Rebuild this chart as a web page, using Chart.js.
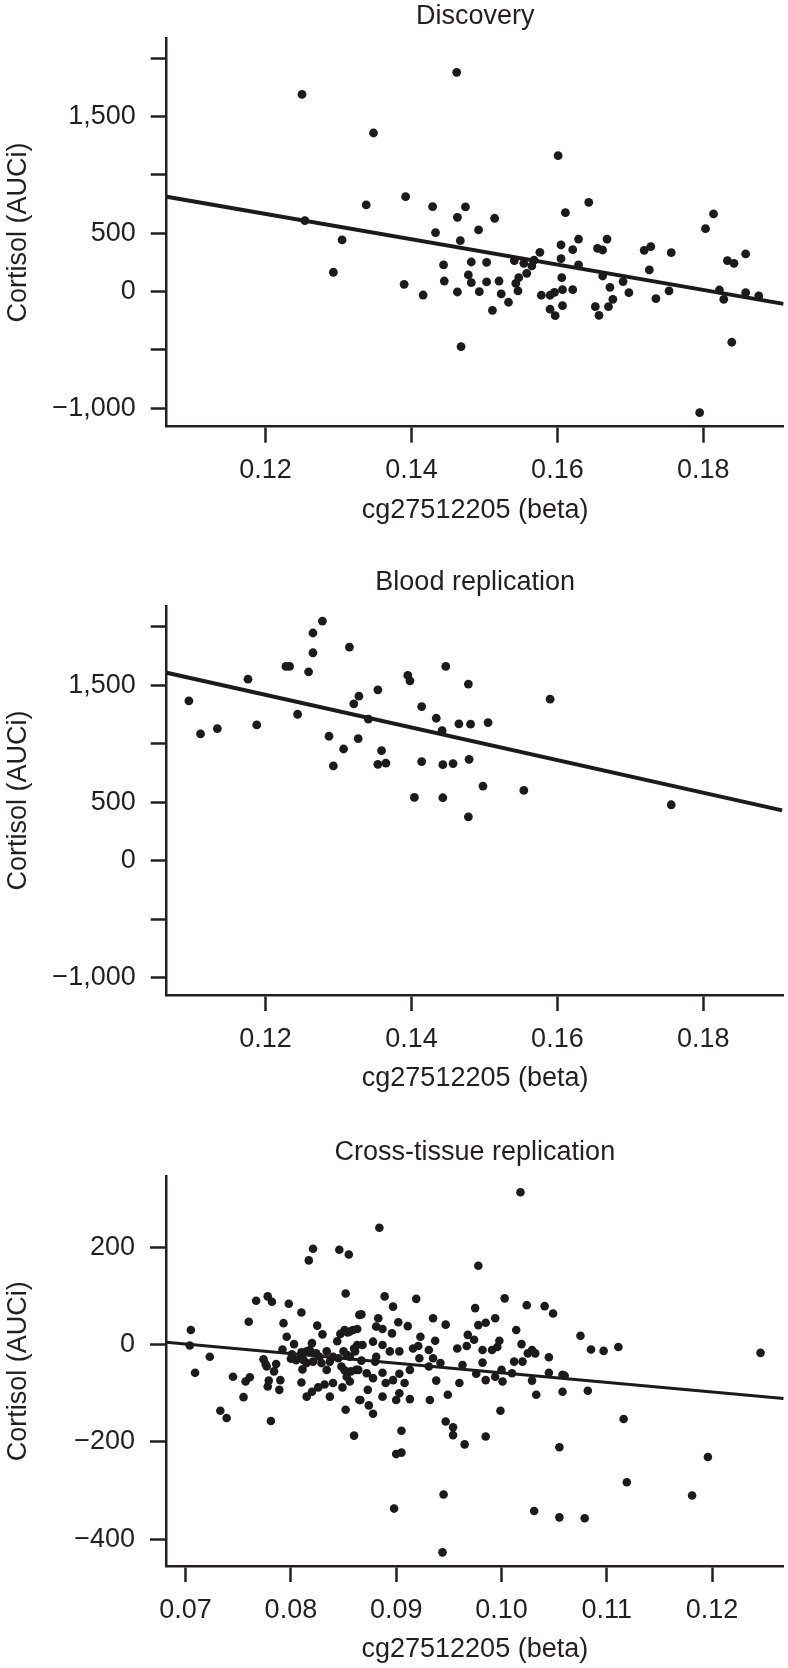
<!DOCTYPE html>
<html>
<head>
<meta charset="utf-8">
<title>Cortisol vs cg27512205</title>
<script src="https://cdn.jsdelivr.net/npm/chart.js@4.4.0/dist/chart.umd.min.js"></script>
<style>
    html, body { margin: 0; padding: 0; background: #fff; }
    #page { position: relative; width: 788px; height: 1668px; overflow: hidden; }
    #page canvas { position: absolute; left: 0; }
</style>
</head>
<body>
<div id="page">
    <canvas id="discovery" width="788" height="540" style="top:0px"></canvas>
    <canvas id="blood" width="788" height="540" style="top:560px"></canvas>
    <canvas id="cross" width="788" height="548" style="top:1120px"></canvas>
</div>
<script>
// 数据 - 从原图读取
const X_TITLE = 'cg27512205 (beta)';
const Y_TITLE = 'Cortisol (AUCi)';

// Discovery
const DISC_X = [
    0.1250, 0.1348, 0.1462, 0.1254, 0.1338, 0.1392, 0.1429, 0.1474, 0.1463, 0.1433,
    0.1467, 0.1305, 0.1293, 0.1444, 0.1445, 0.1390, 0.1416, 0.1463, 0.1468, 0.1601,
    0.1514, 0.1492, 0.1643, 0.1611, 0.1814, 0.1803, 0.1576, 0.1605, 0.1621, 0.1629,
    0.1605, 0.1629, 0.1655, 0.1662, 0.1668, 0.1719, 0.1728, 0.1756, 0.1726, 0.1482,
    0.1503, 0.1541, 0.1554, 0.1568, 0.1565, 0.1558, 0.1547, 0.1543, 0.1546, 0.1478,
    0.1482, 0.1503, 0.1520, 0.1493, 0.1523, 0.1533, 0.1511, 0.1578, 0.1590, 0.1596,
    0.1607, 0.1621, 0.1606, 0.1590, 0.1597, 0.1607, 0.1662, 0.1672, 0.1690, 0.1698,
    0.1676, 0.1652, 0.1670, 0.1657, 0.1735, 0.1753, 0.1822, 0.1828, 0.1833, 0.1842,
    0.1858, 0.1858, 0.1876, 0.1839, 0.1795
];
const DISC_Y = [
    1691, 1360, 1880, 609, 743, 814, 729, 726, 637, 506,
    437, 443, 166, 229, 91, 63, -29, -3, -471, 1166,
    629, 529, 766, 677, 666, 540, 337, 400, 360, 451,
    283, 229, 371, 357, 451, 354, 386, 334, 186, 254,
    251, 266, 243, 271, 220, 157, 120, 71, 6, 143,
    77, 83, 91, 0, -20, -91, -160, -31, -31, -6,
    17, 17, 120, -151, -206, -120, 134, 37, 86, -9,
    -66, -129, -129, -203, -60, 6, 14, -66, 266, 243,
    323, -9, -37, -434, -1037
];
const DISC_FIT_X = [0.10646, 0.1910];
const DISC_FIT_Y = [814, -105];

// Blood replication
const BLOOD_X = [
    0.1095, 0.1111, 0.1134, 0.1176, 0.1188, 0.1228, 0.1233, 0.1244, 0.1259, 0.1265,
    0.1265, 0.1278, 0.1315, 0.1287, 0.1293, 0.1307, 0.1321, 0.1328, 0.1327, 0.1341,
    0.1354, 0.1359, 0.1354, 0.1365, 0.1395, 0.1398, 0.1414, 0.1414, 0.1404, 0.1434,
    0.1442, 0.1447, 0.1443, 0.1457, 0.1443, 0.1465, 0.1478, 0.1481, 0.1505, 0.1479,
    0.1498, 0.1478, 0.1554, 0.1590, 0.1756
];
const BLOOD_Y = [
    1366, 1083, 1129, 1551, 1160, 1660, 1660, 1251, 1614, 1777,
    1946, 2048, 1826, 1063, 809, 954, 1340, 1406, 1043, 1209,
    1460, 940, 823, 834, 1583, 1537, 1317, 846, 540, 1217,
    1111, 1660, 820, 829, 537, 1169, 1509, 1166, 1180, 866,
    637, 374, 600, 1380, 477
];
const BLOOD_FIT_X = [0.10646, 0.1908];
const BLOOD_FIT_Y = [1606, 429];

// Cross-tissue replication
const CROSS_X = [
    0.0705, 0.0704, 0.0723, 0.0709, 0.0745, 0.0755, 0.0733, 0.0739, 0.0757, 0.0761,
    0.0760, 0.0767, 0.0778, 0.0782, 0.0798, 0.0810, 0.0793, 0.0796, 0.0803, 0.0792,
    0.0774, 0.0776, 0.0777, 0.0786, 0.0784, 0.0779, 0.0778, 0.0790, 0.0789, 0.0781,
    0.0817, 0.0821, 0.0846, 0.0855, 0.0852, 0.0825, 0.0830, 0.0844, 0.0810, 0.0805,
    0.0811, 0.0815, 0.0815, 0.0818, 0.0820, 0.0824, 0.0827, 0.0834, 0.0837, 0.0840,
    0.0845, 0.0848, 0.0851, 0.0853, 0.0857, 0.0810, 0.0815, 0.0820, 0.0826, 0.0832,
    0.0840, 0.0837, 0.0849, 0.0852, 0.0860, 0.0800, 0.0801, 0.0810, 0.0834, 0.0847,
    0.0851, 0.0854, 0.0859, 0.0850, 0.0853, 0.0861, 0.0863, 0.0864, 0.0865, 0.0865,
    0.0856, 0.0812, 0.0821, 0.0829,
    0.1018, 0.0884, 0.0978, 0.0889, 0.0919, 0.0897, 0.1003, 0.0975, 0.1024, 0.1041,
    0.1049, 0.0867, 0.0883, 0.0902, 0.0911, 0.0935, 0.0947, 0.0978, 0.0985, 0.0994,
    0.1014, 0.0856, 0.0863, 0.0881, 0.0887, 0.0896, 0.0968, 0.0974, 0.0998, 0.1019,
    0.1029, 0.1045, 0.0923, 0.0937, 0.0878, 0.0887, 0.0903, 0.0894, 0.0916, 0.0921,
    0.0931, 0.0935, 0.0958, 0.0967, 0.0982, 0.0991, 0.0996, 0.1025, 0.1032, 0.0868,
    0.0860, 0.0856, 0.0867, 0.0880, 0.0881, 0.0913, 0.0922, 0.0931, 0.0942, 0.0963,
    0.0982, 0.1000, 0.1012, 0.1020, 0.1045, 0.1058, 0.0862, 0.0872, 0.0878, 0.0887,
    0.0890, 0.0897, 0.0903, 0.0908, 0.0938, 0.0960, 0.0976, 0.0985, 0.0994, 0.1001,
    0.1010, 0.1029, 0.0873, 0.0887, 0.0866, 0.0874, 0.0878, 0.0900, 0.0903, 0.0913,
    0.0932, 0.0949, 0.1033, 0.1058, 0.0999, 0.0947, 0.0954, 0.0954, 0.0965, 0.0905,
    0.0985, 0.0900, 0.0905, 0.1055, 0.0945, 0.0898, 0.1031, 0.1055, 0.0944,
    0.1075, 0.1085, 0.1097, 0.1111, 0.1246, 0.1060, 0.1082, 0.1116, 0.1196, 0.1119,
    0.1181, 0.1079
];
const CROSS_Y = [
    30, -2, -25, -58, -66, -108, -136, -151, -76, -67,
    47, 90, 99, 88, 84, 66, 44, 16, 1, -10,
    -30, -40, -45, -40, -55, -74, -86, -73, -93, -157,
    173, 197, 195, 185, 105, 39, 21, 7, -23, -32,
    -51, -38, -14, -11, 3, -18, -25, -14, -35, -25,
    -28, -45, -53, -66, -55, -78, -107, -97, -88, -82,
    -79, -107, -88, -134, -187, -29, -20, -16, -52, 22,
    30, 25, 30, -14, -21, -14, -1, -52, 61, -114,
    -76, -32, -35, -38,
    313, 240, 162, 99, 94, 78, 95, 75, 81, 79,
    64, 62, 54, 46, 38, 54, 41, 40, 45, 54,
    30, 27, 32, 37, 32, 23, 20, 10, 8, 1,
    -11, -26, 16, 8, 6, -1, -14, -14, -8, -3,
    -11, -28, -8, -3, -11, -11, -5, -18, -18, -1,
    -8, -25, -33, -35, -25, -52, -28, -45, -38, -42,
    -37, -52, -35, -35, -58, -62, -52, -59, -69, -58,
    -79, -73, -60, -79, -74, -79, -60, -73, -66, -76,
    -59, -74, -93, -107, -114, -125, -142, -114, -100, -112,
    -114, -103, -103, -97, -136, -158, -170, -186, -205, -177,
    -189, -225, -222, -211, -308, -337, -342, -355, -427,
    18, -10, -13, -5, -17, -64, -95, -153, -231, -283,
    -310, -357
];
const CROSS_FIT_X = [0.06814, 0.1268];
const CROSS_FIT_Y = [5, -111];

// 刻度
const BETA_TICKS_WIDE = [0.12, 0.14, 0.16, 0.18];
const BETA_TICKS_CROSS = [0.07, 0.08, 0.09, 0.10, 0.11, 0.12];
const AUC_TICKS_WIDE = [-1000, -500, 0, 500, 1000, 1500, 2000];
const AUC_LABELS_WIDE = [-1000, 0, 500, 1500];
const AUC_TICKS_CROSS = [-400, -200, 0, 200];

const FONT_FAMILY = '"Liberation Sans", Arial, Helvetica, sans-serif';
const INK = '#231f20';
const DOT = '#1c1a1b';

// 合并x/y数组为点
function toPoints(xs, ys) {
    return xs.map((x, i) => ({ x: x, y: ys[i] }));
}

// 数值格式: 千分位 + 真正的减号
function formatAuc(v) {
    const s = Math.abs(v).toLocaleString('en-US');
    return v < 0 ? '\u2212' + s : s;
}

// 创建一个面板
function createPanel(canvasId, cfg) {
    const el = document.getElementById(canvasId);
    const font = { family: FONT_FAMILY, size: 27 };

    return new Chart(el, {
        type: 'scatter',
        data: {
            datasets: [
                {
                    type: 'scatter',
                    data: toPoints(cfg.xs, cfg.ys),
                    pointRadius: cfg.dotRadius,
                    pointHoverRadius: cfg.dotRadius,
                    pointBackgroundColor: DOT,
                    pointBorderWidth: 0,
                    clip: false
                },
                {
                    type: 'line',
                    data: toPoints(cfg.fitX, cfg.fitY),
                    borderColor: DOT,
                    borderWidth: cfg.fitWidth,
                    pointRadius: 0,
                    fill: false,
                    tension: 0
                }
            ]
        },
        options: {
            responsive: false,
            animation: false,
            events: [],
            layout: {
                padding: { left: 0, right: 788 - cfg.areaRight, top: 0, bottom: 0 }
            },
            plugins: {
                legend: { display: false },
                tooltip: { enabled: false },
                title: {
                    display: true,
                    text: cfg.title,
                    color: INK,
                    fullSize: false,
                    font: { family: FONT_FAMILY, size: 27, weight: 'normal' },
                    padding: { top: cfg.titlePadTop, bottom: cfg.titlePadBottom }
                }
            },
            scales: {
                x: {
                    type: 'linear',
                    min: cfg.xMin,
                    max: cfg.xMax,
                    afterBuildTicks: axis => {
                        axis.ticks = cfg.xTicks.map(v => ({ value: v }));
                    },
                    afterFit: axis => {
                        axis.height = cfg.xAxisHeight;
                    },
                    ticks: {
                        autoSkip: false,
                        maxRotation: 0,
                        color: INK,
                        font: font,
                        padding: 12,
                        callback: v => v.toFixed(2)
                    },
                    grid: {
                        drawOnChartArea: false,
                        drawTicks: true,
                        tickLength: 16,
                        tickWidth: 2.5,
                        tickColor: INK
                    },
                    border: { display: true, color: INK, width: 2.5 },
                    title: {
                        display: true,
                        text: X_TITLE,
                        color: INK,
                        font: font,
                        padding: { top: 0, bottom: cfg.xTitlePadBottom }
                    }
                },
                y: {
                    type: 'linear',
                    min: cfg.yMin,
                    max: cfg.yMax,
                    afterBuildTicks: axis => {
                        axis.ticks = cfg.yTicks.map(v => ({ value: v }));
                    },
                    afterFit: axis => {
                        axis.width = cfg.areaLeft;
                    },
                    ticks: {
                        autoSkip: false,
                        color: INK,
                        font: font,
                        padding: 15,
                        callback: v => (cfg.yLabels.includes(v) ? formatAuc(v) : '')
                    },
                    grid: {
                        drawOnChartArea: false,
                        drawTicks: true,
                        tickLength: 16,
                        tickWidth: 2.5,
                        tickColor: INK
                    },
                    border: { display: true, color: INK, width: 2.5 },
                    title: {
                        display: true,
                        text: Y_TITLE,
                        color: INK,
                        font: font,
                        padding: { top: 2, bottom: 0 }
                    }
                }
            }
        }
    });
}

// 渲染三个面板
function renderPanels() {
    createPanel('discovery', {
        title: 'Discovery',
        xs: DISC_X, ys: DISC_Y, fitX: DISC_FIT_X, fitY: DISC_FIT_Y,
        xMin: 0.10646, xMax: 0.1910, yMin: -1158, yMax: 2172,
        xTicks: BETA_TICKS_WIDE, yTicks: AUC_TICKS_WIDE, yLabels: AUC_LABELS_WIDE,
        areaLeft: 166.7, areaRight: 786.7,
        titlePadTop: 0, titlePadBottom: 5.9,
        xAxisHeight: 113.3, xTitlePadBottom: 13,
        dotRadius: 4.4, fitWidth: 4
    });

    createPanel('blood', {
        title: 'Blood replication',
        xs: BLOOD_X, ys: BLOOD_Y, fitX: BLOOD_FIT_X, fitY: BLOOD_FIT_Y,
        xMin: 0.10646, xMax: 0.1910, yMin: -1150, yMax: 2177,
        xTicks: BETA_TICKS_WIDE, yTicks: AUC_TICKS_WIDE, yLabels: AUC_LABELS_WIDE,
        areaLeft: 166.7, areaRight: 786.7,
        titlePadTop: 6.8, titlePadBottom: 6.8,
        xAxisHeight: 105, xTitlePadBottom: 5,
        dotRadius: 4.4, fitWidth: 4
    });

    createPanel('cross', {
        title: 'Cross-tissue replication',
        xs: CROSS_X, ys: CROSS_Y, fitX: CROSS_FIT_X, fitY: CROSS_FIT_Y,
        xMin: 0.06814, xMax: 0.1268, yMin: -455, yMax: 345,
        xTicks: BETA_TICKS_CROSS, yTicks: AUC_TICKS_CROSS, yLabels: AUC_TICKS_CROSS,
        areaLeft: 166, areaRight: 786,
        titlePadTop: 16.8, titlePadBottom: 7.5,
        xAxisHeight: 102, xTitlePadBottom: 2,
        dotRadius: 4.3, fitWidth: 3
    });
}

renderPanels();
</script>
</body>
</html>
